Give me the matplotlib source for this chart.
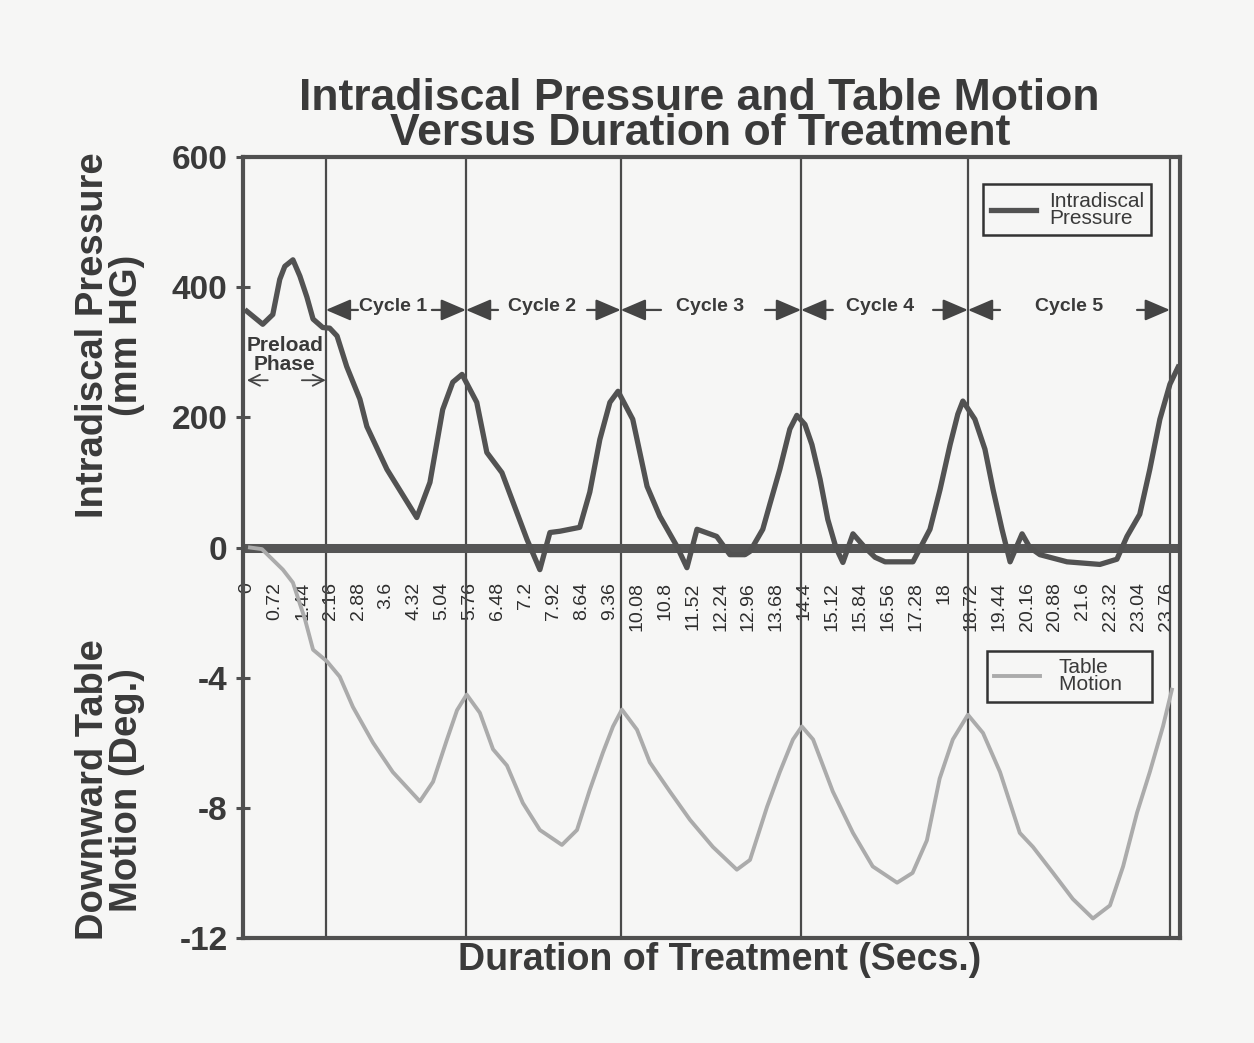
import matplotlib
matplotlib.use("Agg")
import matplotlib.pyplot as plt

# ---------------- data ----------------
pressure_t = [0, 0.41, 0.67, 0.85, 0.98, 1.19, 1.37, 1.55, 1.71, 1.96,
              2.14, 2.33, 2.58, 2.92, 3.10, 3.62, 4.39, 4.73, 5.06, 5.32,
              5.56, 5.94, 6.20, 6.59, 7.24, 7.57, 7.83, 8.09, 8.60, 8.86,
              9.12, 9.38, 9.59, 9.97, 10.34, 10.67, 11.11, 11.37, 11.63, 12.14,
              12.48, 12.87, 13.00, 13.33, 13.51, 13.77, 14.03, 14.21, 14.42, 14.60,
              14.81, 15.01, 15.22, 15.40, 15.66, 15.97, 16.23, 16.49, 17.21, 17.65,
              17.91, 18.17, 18.37, 18.50, 18.81, 19.07, 19.28, 19.51, 19.72, 20.03,
              20.23, 20.49, 21.19, 22.04, 22.48, 22.74, 23.07, 23.33, 23.59, 23.85,
              24.06]
pressure = [363, 343, 358, 412, 432, 442, 417, 385, 351, 338,
            337, 325, 278, 228, 186, 120, 46, 100, 212, 254,
            266, 223, 146, 115, 12, -34, 23, 25, 31, 85,
            166, 223, 240, 197, 94, 48, 2, -31, 28, 17,
            -11, -11, -6, 28, 66, 120, 182, 203, 189, 158,
            105, 43, 0, -23, 21, 0, -15, -22, -22, 28,
            89, 158, 205, 225, 197, 151, 89, 28, -22, 21,
            0, -11, -22, -26, -18, 17, 51, 120, 197, 251,
            277]

table_t = [0.08, 0.39, 0.93, 1.19, 1.50, 1.71, 2.07, 2.40, 2.74, 3.26,
           3.77, 4.47, 4.81, 5.17, 5.43, 5.68, 6.02, 6.36, 6.72, 7.13,
           7.57, 8.14, 8.53, 8.86, 9.20, 9.46, 9.69, 10.08, 10.41, 10.93,
           11.45, 12.04, 12.66, 13.0, 13.44, 13.77, 14.11, 14.34, 14.63, 15.14,
           15.66, 16.17, 16.8, 17.2, 17.57, 17.9, 18.24, 18.63, 19.02, 19.46,
           19.97, 20.31, 20.83, 21.34, 21.86, 22.3, 22.64, 23.0, 23.33, 23.67,
           23.9]
table_motion = [0, -0.05, -0.68, -1.08, -2.2, -3.14, -3.5, -3.97, -4.9, -6.0,
                -6.9, -7.8, -7.2, -5.9, -5.0, -4.52, -5.08, -6.2, -6.7, -7.85,
                -8.68, -9.14, -8.68, -7.45, -6.3, -5.5, -4.98, -5.6, -6.6, -7.5,
                -8.37, -9.2, -9.9, -9.6, -7.97, -6.9, -5.9, -5.5, -5.9, -7.5,
                -8.77, -9.8, -10.3, -10.0, -9.0, -7.1, -5.9, -5.14, -5.7, -6.9,
                -8.77, -9.2, -10.0, -10.8, -11.4, -11.0, -9.8, -8.15, -6.9, -5.5,
                -4.37]

x_tick_labels = ["0", "0.72", "1.44", "2.16", "2.88", "3.6", "4.32", "5.04",
                 "5.76", "6.48", "7.2", "7.92", "8.64", "9.36", "10.08", "10.8",
                 "11.52", "12.24", "12.96", "13.68", "14.4", "15.12", "15.84",
                 "16.56", "17.28", "18", "18.72", "19.44", "20.16", "20.88",
                 "21.6", "22.32", "23.04", "23.76"]
x_tick_values = [float(s) for s in x_tick_labels]

cycle_bounds = [2.04, 5.66, 9.66, 14.32, 18.63, 23.85]
cycle_labels = ["Cycle 1", "Cycle 2", "Cycle 3", "Cycle 4", "Cycle 5"]
cycle_text_x = [3.77, 7.62, 11.96, 16.36, 21.24]
cycle_left_tail = [2.87, 6.49, 10.70, 15.14, 19.46]
cycle_right_tail = [4.78, 8.79, 13.39, 17.73, 23.0]

pressure_ticks = [0, 200, 400, 600]
motion_ticks = [-4, -8, -12]

# ---------------- styling ----------------
BG = "#f6f6f5"
DARK = "#4a4a4a"
TEXT = "#3a3a3a"
plt.rcParams["font.family"] = ["Liberation Sans", "DejaVu Sans"]

fig = plt.figure(figsize=(12.54, 10.43), dpi=100, facecolor=BG)
ax = fig.add_axes([243 / 1254, 1 - 938 / 1043, (1180 - 243) / 1254, (938 - 157) / 1043])
ax.set_facecolor(BG)
ax2 = ax.twinx()

ax.set_xlim(-0.10, 24.11)
ax.set_ylim(-600, 600)
ax2.set_ylim(-12, 12)

# vertical cycle lines
for b in cycle_bounds:
    ax.axvline(b, color=DARK, lw=1.6, zorder=1)

# zero line
ax.axhline(0, color="#555555", lw=6.5, zorder=2)

# pressure
l1, = ax.plot(pressure_t, pressure, color="#525252", lw=3.8, zorder=3,
              solid_joinstyle="round", label="Intradiscal\nPressure")
# table motion
l2, = ax2.plot(table_t, table_motion, color="#ababab", lw=2.8, zorder=3,
               label="Table\nMotion    ")

# spines
for s in ax.spines.values():
    s.set_color("#505050")
    s.set_linewidth(3)
for s in ax2.spines.values():
    s.set_visible(False)

# y ticks
ax.set_yticks(pressure_ticks)
ax.set_yticklabels([str(v) for v in pressure_ticks])
ax2.yaxis.set_ticks_position("left")
ax2.set_yticks(motion_ticks)
ax2.set_yticklabels([str(v) for v in motion_ticks])
for a in (ax, ax2):
    a.tick_params(axis="y", direction="inout", length=10, width=2.2,
                  color="#505050", pad=6, labelsize=24, labelcolor=TEXT)
    for lab in a.get_yticklabels():
        lab.set_fontweight("bold")

# x ticks at the zero line
ax.set_xticks([])
sec = ax.secondary_xaxis(0.5)
sec.set_xticks(x_tick_values)
sec.set_xticklabels(x_tick_labels, rotation=90)
sec.xaxis.set_ticks_position("bottom")
sec.tick_params(axis="x", length=0, pad=25, labelsize=14, labelcolor="#2e2e2e",
                labelbottom=True, labeltop=False, bottom=True, top=False)
for s in sec.spines.values():
    s.set_visible(False)

# titles and labels
fig.text(0.558, 1 - 116 / 1043,
         "Intradiscal Pressure and Table Motion\nVersus Duration of Treatment",
         ha="center", va="center", multialignment="center", linespacing=0.84,
         fontsize=32, fontweight="bold", color=TEXT)
fig.text(110 / 1254, 1 - 335 / 1043, "Intradiscal Pressure\n(mm HG)",
         rotation=90, ha="center", va="center", multialignment="center",
         fontsize=27.5, fontweight="bold", color=TEXT, linespacing=0.92)
fig.text(110 / 1254, 1 - 790 / 1043, "Downward Table\nMotion (Deg.)",
         rotation=90, ha="center", va="center", multialignment="center",
         fontsize=27.5, fontweight="bold", color=TEXT, linespacing=0.92)
fig.text(720 / 1254, 1 - 960 / 1043, "Duration of Treatment (Secs.)",
         ha="center", va="center", fontsize=27, fontweight="bold", color=TEXT)

# cycle annotations
arrow_y = 365
text_y = 371
aprops = dict(arrowstyle="-|>,head_length=0.7,head_width=0.3", color="#444444",
              lw=1.6, shrinkA=0, shrinkB=0, mutation_scale=22)
for i, lab in enumerate(cycle_labels):
    ax.text(cycle_text_x[i], text_y, lab, ha="center", va="center",
            fontsize=14, fontweight="bold", color=TEXT, zorder=5)
    ax.annotate("", xy=(cycle_bounds[i], arrow_y), xytext=(cycle_left_tail[i], arrow_y),
                arrowprops=aprops, zorder=5)
    ax.annotate("", xy=(cycle_bounds[i + 1], arrow_y), xytext=(cycle_right_tail[i], arrow_y),
                arrowprops=aprops, zorder=5)

# preload phase
ax.text(0.98, 296, "Preload\nPhase", ha="center", va="center", fontsize=15,
        fontweight="bold", color=TEXT, linespacing=1.0, zorder=5)
pprops = dict(arrowstyle="->,head_length=0.5,head_width=0.25", color="#444444",
              lw=1.3, shrinkA=0, shrinkB=0, mutation_scale=16)
ax.annotate("", xy=(0.0, 257), xytext=(0.54, 257), arrowprops=pprops, zorder=5)
ax.annotate("", xy=(cycle_bounds[0], 257), xytext=(1.42, 257), arrowprops=pprops, zorder=5)

# legends
leg1 = ax.legend(handles=[l1], loc="upper left", bbox_to_anchor=(0.79, 0.965),
                 fancybox=False, framealpha=1, facecolor=BG, edgecolor="#333333",
                 fontsize=15, handlelength=2.2, borderpad=0.35, labelspacing=0.2,
                 handletextpad=0.6, borderaxespad=0)
leg1.get_frame().set_linewidth(1.8)
for t in leg1.get_texts():
    t.set_color(TEXT)
    t.set_linespacing(0.9)
leg2 = ax2.legend(handles=[l2], loc="upper left", bbox_to_anchor=(0.794, 0.368),
                  fancybox=False, framealpha=1, facecolor=BG, edgecolor="#333333",
                  fontsize=15, handlelength=2.2, borderpad=0.35, labelspacing=0.2,
                  handletextpad=0.9, borderaxespad=0)
leg2.get_frame().set_linewidth(1.8)
for t in leg2.get_texts():
    t.set_color(TEXT)
    t.set_linespacing(0.9)

fig.savefig("out.png", dpi=100, facecolor=BG)
